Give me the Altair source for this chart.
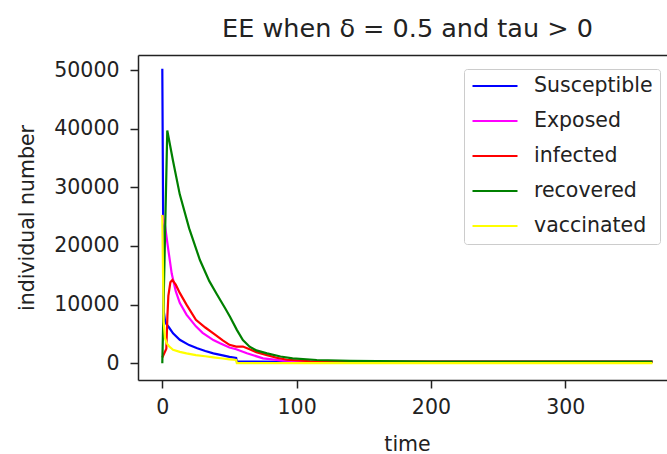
import altair as alt
import pandas as pd

# Compartments of the model, in drawing / legend order
series_names = ["Susceptible", "Exposed", "infected", "recovered", "vaccinated"]
series_colors = ["blue", "magenta", "red", "green", "yellow"]

# Susceptible
s_time = [0, 1, 2, 3, 5, 8, 13, 20, 26, 32, 38, 45, 50, 55, 55.5, 100, 200, 365]
s_count = [50200, 9000, 7300, 6700, 6100, 5100, 4000, 3100, 2550, 2100, 1700, 1350,
           1100, 900, 300, 250, 250, 250]

# Exposed
e_time = [0, 2, 4.5, 7, 10, 13, 18, 25, 30, 38, 43, 50, 55, 63, 75, 90, 110, 150, 365]
e_count = [25300, 23500, 19300, 15300, 12300, 10300, 8300, 6300, 5200, 3950, 3400,
           2700, 2400, 1700, 850, 450, 300, 250, 250]

# infected
i_time = [0, 3, 3.8, 4.5, 6, 7.5, 10, 13, 18, 25, 32, 38, 45, 50, 55, 60, 65, 70,
          78, 85, 93, 110, 150, 365]
i_count = [1000, 2500, 8000, 11500, 13800, 14200, 13400, 12000, 10000, 7400, 6100,
           5100, 3900, 3150, 2850, 2850, 2400, 1900, 1400, 950, 600, 350, 280, 280]

# recovered
r_time = [0, 3.7, 8, 13, 20, 28, 35, 40.5, 47, 50.5, 55.5, 60, 65, 70, 78, 88, 97,
          115, 140, 200, 365]
r_count = [0, 39700, 34500, 28800, 23000, 17600, 14000, 11800, 9300, 7900, 5700,
           3970, 2830, 2200, 1700, 1150, 850, 560, 400, 300, 280]

# vaccinated
v_time = [0, 1, 2, 3.3, 5, 8, 13, 18, 25, 32, 38, 45, 50, 55, 55.5, 365]
v_count = [25300, 7000, 4300, 3400, 2900, 2300, 1950, 1700, 1400, 1200, 1020, 820,
           680, 560, 30, 30]

x_ticks = [0, 100, 200, 300]
y_ticks = [0, 10000, 20000, 30000, 40000, 50000]
x_range = [-18.1, 375.8]
y_range = [-2850, 52560]

times = [s_time, e_time, i_time, r_time, v_time]
counts = [s_count, e_count, i_count, r_count, v_count]

rows = []
for name, ts, vs in zip(series_names, times, counts):
    for t, v in zip(ts, vs):
        rows.append({"time": t, "count": v, "compartment": name})
df = pd.DataFrame(rows)

FONT = "DejaVu Sans"
INK = "#222222"
FS = 20.5

x_scale = alt.Scale(domain=x_range, nice=False, zero=False)
y_scale = alt.Scale(domain=y_range, nice=False, zero=False)

lines = alt.Chart(df).mark_line(strokeWidth=2.2, clip=True).encode(
    x=alt.X(
        "time:Q",
        scale=x_scale,
        axis=alt.Axis(
            values=x_ticks, title="time", format="d", grid=False,
            tickSize=8, labelPadding=9, titleX=269, titleY=70,
            titleBaseline="alphabetic",
        ),
    ),
    y=alt.Y(
        "count:Q",
        scale=y_scale,
        axis=alt.Axis(
            values=y_ticks, title="individual number", format="d", grid=False,
            tickSize=8, labelPadding=11, titleX=-105, titleY=162.5,
            titleBaseline="alphabetic", titleAngle=-90, titleAlign="center",
        ),
    ),
    color=alt.Color(
        "compartment:N",
        scale=alt.Scale(domain=series_names, range=series_colors),
        legend=alt.Legend(
            title=None, orient="none", legendX=326, legendY=14,
            symbolType="stroke", symbolSize=2025, symbolStrokeWidth=2.2,
            clipHeight=20,
            labelFontSize=FS, labelFont=FONT, labelColor=INK, labelOffset=15,
            padding=7, fillColor="white", strokeColor="#cccccc",
            cornerRadius=3, rowPadding=14, labelLimit=0,
        ),
    ),
)

# top frame line of the axes box
top_frame = alt.Chart(df).mark_point(opacity=0).encode(
    x=alt.X(
        "time:Q", scale=x_scale,
        axis=alt.Axis(orient="top", labels=False, ticks=False, title=None, grid=False,
                      minExtent=0, maxExtent=0, offset=0),
    ),
    y=alt.Y("count:Q", scale=y_scale, axis=None),
)

chart = (
    alt.layer(lines, top_frame)
    .resolve_axis(x="independent", y="independent")
    .properties(
        width=529,
        height=325,
        background="white",
        autosize=alt.AutoSizeParams(type="none"),
        padding={"left": 138, "top": 55, "right": 0, "bottom": 74},
        title=alt.TitleParams(
            "EE when δ = 0.5 and tau > 0",
            anchor="middle", frame="group", dx=5, offset=-7, baseline="alphabetic",
            fontSize=25.5, font=FONT, fontWeight="normal", color=INK,
        ),
    )
    .configure_view(stroke=None)
    .configure_axis(
        labelFont=FONT, labelFontSize=FS, labelColor=INK,
        titleFont=FONT, titleFontSize=FS, titleColor=INK, titleFontWeight="normal",
        domainColor=INK, domainWidth=1.5, tickColor=INK, tickWidth=1.5,
    )
)

chart.save("out.html", embed_options={"renderer": "svg", "actions": False})
